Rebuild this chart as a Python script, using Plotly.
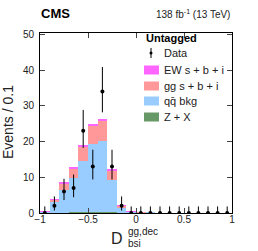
import plotly.graph_objects as go

# bin centers of D_bsi^{gg,dec}, width 0.1
centers = [round(-0.95 + 0.1 * i, 2) for i in range(20)]

zx = [0.02, 0.05, 0.1, 0.15, 0.2, 0.25, 0.25, 0.15, 0.05, 0.02, 0, 0, 0, 0, 0, 0, 0, 0, 0, 0]
qq_bkg = [0.28, 3.25, 6.3, 9.55, 14.3, 19.05, 19.85, 9.05, 1.45, 0.28, 0.05, 0.02, 0, 0, 0, 0, 0, 0, 0, 0]
gg_sbi = [0.08, 0.45, 1.9, 2.8, 4.0, 5.25, 5.85, 2.7, 0.5, 0.08, 0.02, 0, 0, 0, 0, 0, 0, 0, 0, 0]
ew_sbi = [0.02, 0.15, 0.3, 0.3, 0.3, 0.35, 0.35, 0.3, 0.1, 0.02, 0, 0, 0, 0, 0, 0, 0, 0, 0, 0]

data = [0, 2, 6, 7, 23, 13, 34, 13, 2, 0, 0, 0, 0, 0, 0, 0, 0, 0, 0, 0]
data_up = [1.84, 2.64, 3.58, 3.77, 5.86, 4.71, 6.89, 4.71, 2.64, 1.84,
           1.84, 1.84, 1.84, 1.84, 1.84, 1.84, 1.84, 1.84, 1.84, 1.84]
data_dn = [0, 1.29, 2.38, 2.58, 4.77, 3.6, 5.82, 3.6, 1.29, 0,
           0, 0, 0, 0, 0, 0, 0, 0, 0, 0]

x_ticks = [-1, -0.5, 0, 0.5, 1]
x_ticklabels = ["\u22121", "\u22120.5", "0", "0.5", "1"]
y_ticks = [0, 10, 20, 30, 40, 50]

C_EW = "#ff66ff"
C_GG = "#ff9999"
C_QQ = "#99ccff"
C_ZX = "#669966"

FONT = "Liberation Sans, Arial, sans-serif"

fig = go.Figure()
for vals, col in [(zx, C_ZX), (qq_bkg, C_QQ), (gg_sbi, C_GG), (ew_sbi, C_EW)]:
    fig.add_trace(go.Bar(x=centers, y=vals, width=0.1, marker=dict(color=col, line=dict(width=0)),
                         showlegend=False))

fig.add_trace(go.Scatter(
    x=centers, y=data, mode="markers",
    marker=dict(color="black", size=4),
    error_y=dict(type="data", array=data_up, arrayminus=data_dn, symmetric=False,
                 color="black", thickness=1, width=0),
    showlegend=False))

# plot area in pixels: x 40..232, y 33..213
def px(xp):
    return (xp - 40) / 192.0

def py(yp):
    return (213 - yp) / 180.0

ann = []
ann.append(dict(text="<b>CMS</b>", x=px(39), y=py(14), xanchor="left", yanchor="middle",
                font=dict(size=13, color="black", family=FONT)))
ann.append(dict(text="138 fb<sup>-1</sup> (13 TeV)", x=px(232), y=py(14), xanchor="right", yanchor="middle",
                font=dict(size=10, color="#222", family=FONT)))
ann.append(dict(text="Events / 0.1", x=px(8), y=py(122), xanchor="center", yanchor="middle", textangle=-90,
                font=dict(size=14, color="#222", family=FONT)))
ann.append(dict(text="D", x=px(125), y=py(238), xanchor="right", yanchor="middle",
                font=dict(size=16, color="#222", family=FONT)))
ann.append(dict(text="gg,dec", x=px(126), y=py(231.5), xanchor="left", yanchor="middle",
                font=dict(size=10, color="#222", family=FONT)))
ann.append(dict(text="bsi", x=px(126), y=py(243.5), xanchor="left", yanchor="middle",
                font=dict(size=10, color="#222", family=FONT)))

# legend
ann.append(dict(text="<b>Untagged</b>", x=px(144), y=py(37.5), xanchor="left", yanchor="middle",
                font=dict(size=11, color="black", family=FONT)))
leg = [("Data", None, 53), ("EW s + b + i", C_EW, 70), ("gg s + b + i", C_GG, 86),
       ("qq\u0304 bkg", C_QQ, 101), ("Z + X", C_ZX, 117)]
shapes = []
for label, col, yy in leg:
    ann.append(dict(text=label, x=px(162), y=py(yy), xanchor="left", yanchor="middle",
                    font=dict(size=11, color="#222", family=FONT)))
    if col is None:
        shapes.append(dict(type="line", xref="paper", yref="paper", x0=px(151), x1=px(151),
                           y0=py(yy - 5), y1=py(yy + 5), line=dict(color="black", width=1)))
        shapes.append(dict(type="circle", xref="paper", yref="paper", x0=px(149.5), x1=px(152.5),
                           y0=py(yy + 1.5), y1=py(yy - 1.5), fillcolor="black", line=dict(width=0)))
    else:
        shapes.append(dict(type="rect", xref="paper", yref="paper", x0=px(144), x1=px(159),
                           y0=py(yy + 4.5), y1=py(yy - 4.5), fillcolor=col, line=dict(width=0)))

for a in ann:
    a.update(xref="paper", yref="paper", showarrow=False)

fig.update_layout(
    width=258, height=251,
    margin=dict(l=40, r=26, t=33, b=38),
    paper_bgcolor="white", plot_bgcolor="white",
    barmode="stack", bargap=0,
    annotations=ann, shapes=shapes,
    font=dict(family=FONT, size=10, color="#222"),
)
fig.update_xaxes(range=[-1, 1], tickvals=x_ticks, ticktext=x_ticklabels, ticks="inside", ticklen=5,
                 showline=True, linecolor="black", linewidth=1, mirror="ticks", showgrid=False,
                 zeroline=False, ticklabelstandoff=-3,
                 tickfont=dict(size=10, family=FONT, color="#222"))
fig.update_yaxes(range=[0, 50.4], tickvals=y_ticks, ticks="inside", ticklen=5,
                 showline=True, linecolor="black", linewidth=1, mirror="ticks", showgrid=False,
                 zeroline=False, ticklabelstandoff=3,
                 tickfont=dict(size=10, family=FONT, color="#222"))

fig.write_html("out.html", config={"displayModeBar": False},
               post_script="document.body.style.margin='0px';document.body.style.overflow='hidden';")
